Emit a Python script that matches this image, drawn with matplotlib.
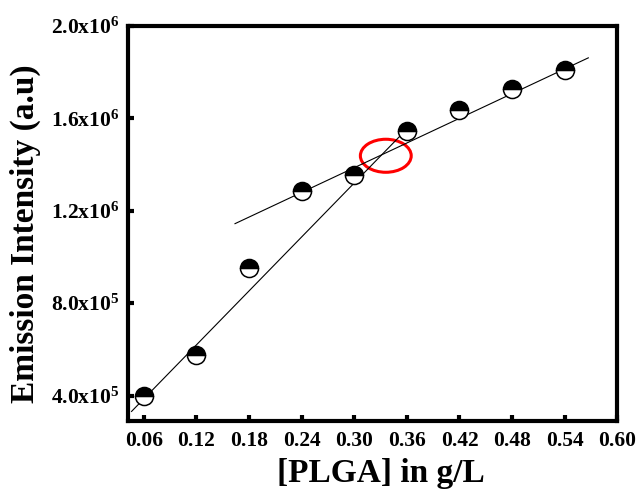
import numpy as np
import matplotlib
matplotlib.use("Agg")
import matplotlib.pyplot as plt
from matplotlib.patches import Ellipse

# data
plga = [0.06, 0.12, 0.18, 0.24, 0.30, 0.36, 0.42, 0.48, 0.54]
intensity = [4.00e5, 5.77e5, 9.54e5, 1.286e6, 1.356e6, 1.546e6, 1.637e6, 1.727e6, 1.81e6]

# the two straight lines drawn through the points (end points)
fit1_x = [0.046, 0.357]
fit1_y = [3.31e5, 1.542e6]
fit2_x = [0.164, 0.567]
fit2_y = [1.144e6, 1.862e6]

# break point highlighted with a red ellipse
brk_x, brk_y = 0.336, 1.438e6

xticks = [0.06, 0.12, 0.18, 0.24, 0.30, 0.36, 0.42, 0.48, 0.54, 0.60]
yticks = [4e5, 8e5, 1.2e6, 1.6e6, 2.0e6]
ytick_labels = ["4.0x10$^5$", "8.0x10$^5$", "1.2x10$^6$", "1.6x10$^6$", "2.0x10$^6$"]

plt.rcParams['font.family'] = ['Liberation Serif', 'DejaVu Serif']
plt.rcParams['font.weight'] = 'bold'
plt.rcParams['mathtext.fontset'] = 'custom'
plt.rcParams['mathtext.rm'] = 'Liberation Serif:bold'
plt.rcParams['mathtext.default'] = 'regular'

fig = plt.figure(figsize=(6.37, 4.9), dpi=100)
ax = fig.add_axes([0.201, 0.141, 0.768, 0.806])

ax.plot(fit1_x, fit1_y, color='black', lw=0.8)
ax.plot(fit2_x, fit2_y, color='black', lw=0.8)
ax.plot(plga, intensity, ls='none', marker='o', ms=13, fillstyle='top',
        markerfacecolor='black', markerfacecoloralt='white',
        markeredgecolor='black', markeredgewidth=1.1)

ax.add_patch(Ellipse((brk_x, brk_y), 0.058, 1.43e5, fill=False,
                     edgecolor='red', lw=2.2))

ax.set_xlim(0.042, 0.60)
ax.set_ylim(2.9e5, 2.0e6)
ax.set_xticks(xticks)
ax.set_xticklabels([f"{t:.2f}" for t in xticks])
ax.set_yticks(yticks)
ax.set_yticklabels(ytick_labels)

for s in ax.spines.values():
    s.set_linewidth(3)
ax.tick_params(direction='in', length=4, width=3, labelsize=15.5)
ax.tick_params(axis='x', pad=7)
ax.tick_params(axis='y', pad=6)

ax.set_xlabel("[PLGA] in g/L", fontsize=24, fontweight='bold')
ax.set_ylabel("Emission Intensity (a.u)", fontsize=24, fontweight='bold')
ax.xaxis.set_label_coords(0.517, -0.093)
ax.yaxis.set_label_coords(-0.178, 0.473)

fig.savefig("out.png", dpi=100)
